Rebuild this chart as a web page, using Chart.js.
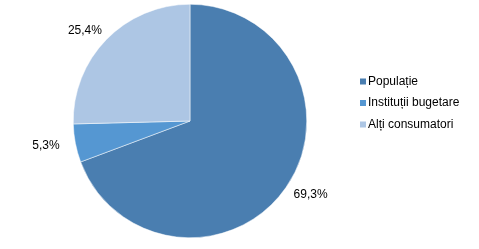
<!DOCTYPE html>
<html>
<head>
<meta charset="utf-8">
<script src="https://cdn.jsdelivr.net/npm/chart.js@4/dist/chart.umd.min.js"></script>
<style>
  html, body { margin: 0; padding: 0; background: #fff; }
  #wrap { width: 479px; height: 249px; position: relative; }
</style>
</head>
<body>
<div id="wrap"><canvas id="pie"></canvas></div>
<script>
// data
const categories = ['Populație', 'Instituții bugetare', 'Alți consumatori'];
const shares = [69.3, 5.3, 25.4];
const sliceColors = ['#4a7eb0', '#5597d2', '#adc6e4'];

const FONT = '12px "Liberation Sans", Arial, sans-serif';

function fmt(v) { return v.toFixed(1).replace('.', ',') + '%'; }

// percentage labels outside the slices (a bit wider sideways than up/down)
const outsideLabels = {
  id: 'outsideLabels',
  afterDatasetsDraw(chart) {
    const ctx = chart.ctx;
    const meta = chart.getDatasetMeta(0);
    ctx.save();
    ctx.font = FONT;
    ctx.fillStyle = '#000';
    ctx.textAlign = 'center';
    ctx.textBaseline = 'middle';
    meta.data.forEach((arc, i) => {
      const p = arc.getProps(['x', 'y', 'startAngle', 'endAngle', 'outerRadius'], true);
      const mid = (p.startAngle + p.endAngle) / 2;
      const x = p.x + Math.cos(mid) * (p.outerRadius + 30);
      const y = p.y + Math.sin(mid) * (p.outerRadius + 12);
      ctx.fillText(fmt(shares[i]), x, y);
    });
    ctx.restore();
  }
};

// legend on the right, drawn by hand
const sideLegend = {
  id: 'sideLegend',
  afterDraw(chart) {
    const ctx = chart.ctx;
    ctx.save();
    ctx.font = FONT;
    ctx.textBaseline = 'middle';
    ctx.textAlign = 'left';
    categories.forEach((c, i) => {
      const y = 81.5 + i * 21.5;
      ctx.fillStyle = sliceColors[i];
      ctx.fillRect(360, y - 3, 6, 6);
      ctx.fillStyle = '#000';
      ctx.fillText(c, 368, y);
    });
    ctx.restore();
  }
};

new Chart(document.getElementById('pie'), {
  type: 'pie',
  data: {
    labels: categories,
    datasets: [{
      data: shares,
      backgroundColor: sliceColors,
      borderColor: '#fff',
      borderWidth: 0.5
    }]
  },
  options: {
    responsive: true,
    maintainAspectRatio: false,
    animation: false,
    layout: { padding: { left: 73, right: 172, top: 4, bottom: 11 } },
    plugins: {
      legend: { display: false },
      tooltip: { enabled: false }
    }
  },
  plugins: [outsideLabels, sideLegend]
});
</script>
</body>
</html>
